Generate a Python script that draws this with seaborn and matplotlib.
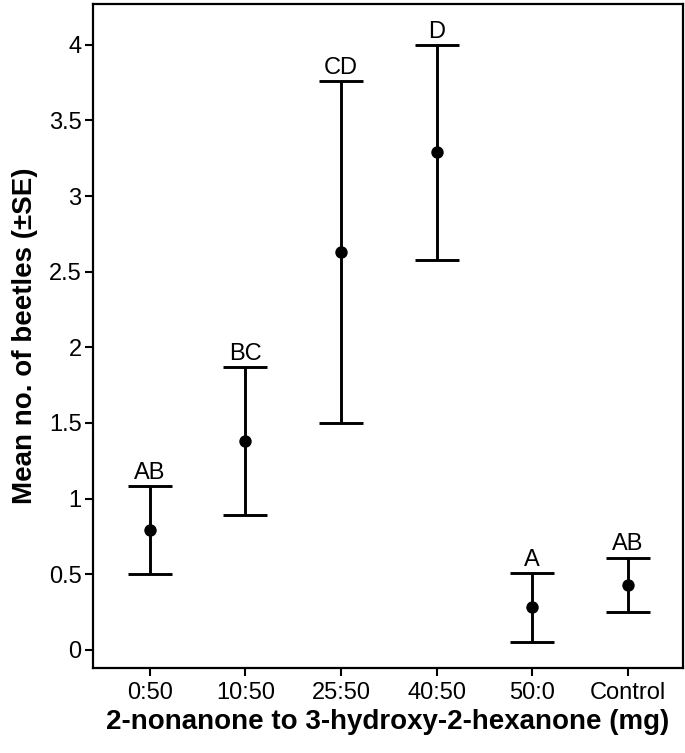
import numpy as np
import matplotlib
matplotlib.use("Agg")
import matplotlib.pyplot as plt
import seaborn as sns
import pandas as pd

# data
ratios = ["0:50", "10:50", "25:50", "40:50", "50:0", "Control"]
means = [0.79, 1.38, 2.63, 3.29, 0.28, 0.43]
se = [0.29, 0.49, 1.13, 0.71, 0.225, 0.18]
letters = ["AB", "BC", "CD", "D", "A", "AB"]

df = pd.DataFrame({"ratio": ratios, "mean": means, "se": se, "letter": letters})

sns.set_theme(style="ticks")
plt.rcParams["font.family"] = ["Liberation Sans", "DejaVu Sans"]
plt.rcParams["text.color"] = "black"
plt.rcParams["axes.labelcolor"] = "black"

fig = plt.figure(figsize=(6.85, 7.53), dpi=100)
ax = fig.add_axes([0.1353, 0.1129, 0.997 - 0.1353, 0.9947 - 0.1129])

# points
sns.scatterplot(data=df, x="ratio", y="mean", color="black", s=80,
                edgecolor="black", linewidth=0, zorder=3, ax=ax)

# SE bars
ax.errorbar(np.arange(len(df)), df["mean"], yerr=df["se"], fmt="none",
            ecolor="black", elinewidth=2.1, capsize=15.5, capthick=2.1, zorder=2)

# significance letters
for i, row in df.iterrows():
    ax.text(i, row["mean"] + row["se"] + 0.015, row["letter"],
            ha="center", va="bottom", fontsize=17, color="black")

ax.set_xlim(-0.6, 5.58)
ax.set_ylim(-0.12, 4.27)
ax.set_yticks([0, 0.5, 1, 1.5, 2, 2.5, 3, 3.5, 4])
ax.set_yticklabels(["0", "0.5", "1", "1.5", "2", "2.5", "3", "3.5", "4"])

for s in ax.spines.values():
    s.set_visible(True)
    s.set_linewidth(1.6)
    s.set_color("black")

ax.tick_params(axis="both", length=6, width=1.5, labelsize=17, colors="black", pad=4)
ax.tick_params(axis="y", pad=2)

ax.set_xlabel("2-nonanone to 3-hydroxy-2-hexanone (mg)", fontsize=20, fontweight="bold",
              labelpad=4, color="black")
ax.set_ylabel("Mean no. of beetles (\u00b1SE)", fontsize=20, fontweight="bold",
              labelpad=8, color="black")

fig.savefig("out.png", dpi=100, facecolor="white")
